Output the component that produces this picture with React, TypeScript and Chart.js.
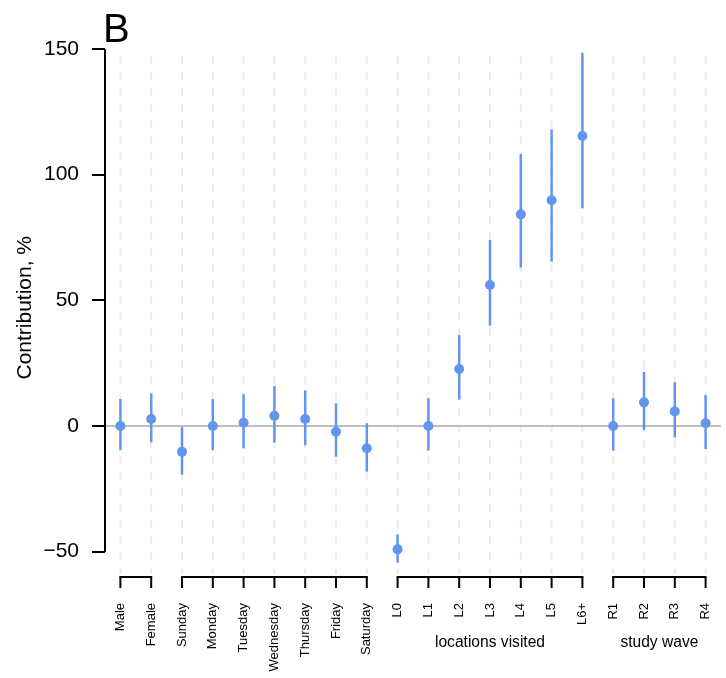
import React, { useEffect, useRef } from 'react';
import { Chart, registerables } from 'chart.js';

Chart.register(...registerables);

const categories = ['Male', 'Female', 'Sunday', 'Monday', 'Tuesday', 'Wednesday', 'Thursday', 'Friday', 'Saturday', 'L0', 'L1', 'L2', 'L3', 'L4', 'L5', 'L6+', 'R1', 'R2', 'R3', 'R4'];
const estimates = [0, 2.8, -10.3, 0, 1.3, 4.1, 2.8, -2.3, -8.9, -49.1, 0, 22.7, 56.1, 84.2, 89.8, 115.4, 0, 9.4, 5.8, 1.1];
const lower = [-9.7, -6.5, -19.4, -9.7, -8.9, -6.6, -7.7, -12.2, -18.2, -54.4, -9.8, 10.5, 39.9, 63, 65.4, 86.6, -9.8, -1.6, -4.6, -9.2];
const upper = [10.7, 13, -0.5, 10.7, 12.6, 15.9, 14.2, 9, 1.1, -43.1, 11, 36.2, 74, 108.2, 118, 148.5, 11, 21.5, 17.4, 12.3];
const yTicks = [-50, 0, 50, 100, 150];
const groupLabels = ['', '', 'locations visited', 'study wave'];
const groupStart = [0, 2, 9, 16];
const groupEnd = [1, 8, 15, 19];

const FONT = '"Liberation Sans", Arial, Helvetica, sans-serif';
const BLUE = '#6495ed';

const customPlugin = {
  id: 'customDecor',
  beforeDatasetsDraw(chart: any) {
    const { ctx, chartArea, scales } = chart;
    const x = scales.x;
    const y = scales.y;
    ctx.save();
    // dashed vertical guides
    ctx.strokeStyle = '#ebebeb';
    ctx.lineWidth = 2;
    ctx.setLineDash([8, 8]);
    const gTop = y.getPixelForValue(147);
    for (let i = 0; i < categories.length; i++) {
      const px = x.getPixelForValue(i);
      ctx.beginPath();
      ctx.moveTo(px, gTop);
      ctx.lineTo(px, chartArea.bottom);
      ctx.stroke();
    }
    ctx.setLineDash([]);
    // zero line
    const y0 = y.getPixelForValue(0);
    ctx.strokeStyle = '#bebebe';
    ctx.lineWidth = 2;
    ctx.beginPath();
    ctx.moveTo(chartArea.left, y0);
    ctx.lineTo(chartArea.right, y0);
    ctx.stroke();
    // error bars
    ctx.strokeStyle = BLUE;
    ctx.lineWidth = 2.5;
    for (let i = 0; i < categories.length; i++) {
      const px = x.getPixelForValue(i);
      ctx.beginPath();
      ctx.moveTo(px, y.getPixelForValue(lower[i]));
      ctx.lineTo(px, y.getPixelForValue(upper[i]));
      ctx.stroke();
    }
    ctx.restore();
  },
  afterDraw(chart: any) {
    const { ctx, chartArea, scales } = chart;
    const x = scales.x;
    const y = scales.y;
    ctx.save();
    ctx.strokeStyle = '#000';
    ctx.lineWidth = 2;
    // y axis line
    ctx.beginPath();
    ctx.moveTo(chartArea.left, y.getPixelForValue(yTicks[0]));
    ctx.lineTo(chartArea.left, y.getPixelForValue(yTicks[yTicks.length - 1]));
    ctx.stroke();
    // brackets
    const by = chartArea.bottom + 3;
    const tickLen = 11;
    for (let g = 0; g < groupStart.length; g++) {
      const x1 = x.getPixelForValue(groupStart[g]);
      const x2 = x.getPixelForValue(groupEnd[g]);
      ctx.beginPath();
      ctx.moveTo(x1 - 1, by);
      ctx.lineTo(x2 + 1, by);
      ctx.stroke();
      for (let i = groupStart[g]; i <= groupEnd[g]; i++) {
        const px = x.getPixelForValue(i);
        ctx.beginPath();
        ctx.moveTo(px, by);
        ctx.lineTo(px, by + tickLen);
        ctx.stroke();
      }
      if (groupLabels[g]) {
        ctx.fillStyle = '#000';
        ctx.font = `15.6px ${FONT}`;
        ctx.textAlign = 'center';
        ctx.textBaseline = 'middle';
        ctx.fillText(groupLabels[g], (x1 + x2) / 2, 643);
      }
    }
    // panel letter
    ctx.fillStyle = '#000';
    ctx.font = `40px ${FONT}`;
    ctx.textAlign = 'left';
    ctx.textBaseline = 'alphabetic';
    ctx.fillText('B', 103, 42);
    ctx.restore();
  },
};

export default function App() {
  const canvasRef = useRef<HTMLCanvasElement | null>(null);

  useEffect(() => {
    const canvas = canvasRef.current;
    if (!canvas) return;
    const chart = new Chart(canvas, {
      type: 'line',
      data: {
        labels: categories,
        datasets: [
          {
            data: estimates,
            showLine: false,
            pointRadius: 5,
            pointHoverRadius: 5,
            pointBackgroundColor: BLUE,
            pointBorderColor: BLUE,
            pointBorderWidth: 0,
            borderColor: BLUE,
            backgroundColor: BLUE,
            clip: false as any,
          },
        ],
      },
      options: {
        responsive: false,
        animation: false,
        layout: { padding: { left: 0, right: 5, top: 41.5, bottom: 0 } },
        plugins: {
          legend: { display: false },
          tooltip: { enabled: false },
          title: { display: false },
        },
        scales: {
          x: {
            type: 'category',
            offset: true,
            grid: { display: false },
            border: { display: false },
            ticks: {
              autoSkip: false,
              minRotation: 90,
              maxRotation: 90,
              padding: 21,
              color: '#000',
              font: { family: FONT, size: 13 },
            },
            afterFit(scale: any) {
              scale.height = 104;
              scale.paddingLeft = 0;
              scale.paddingRight = 0;
            },
          },
          y: {
            type: 'linear',
            min: -58.9,
            max: 152.98,
            afterBuildTicks(scale: any) {
              scale.ticks = yTicks.map((v) => ({ value: v }));
            },
            afterFit(scale: any) {
              scale.width = 105;
              scale.paddingTop = 0;
              scale.paddingBottom = 0;
            },
            grid: {
              display: true,
              drawOnChartArea: false,
              drawTicks: true,
              tickLength: 13,
              color: '#000',
              lineWidth: 2,
            },
            border: { display: false },
            ticks: {
              padding: 13,
              color: '#000',
              font: { family: FONT, size: 21 },
              callback: (v: any) => (Number(v) < 0 ? '\u2212' + Math.abs(Number(v)) : String(v)),
            },
            title: {
              display: true,
              text: 'Contribution, %',
              color: '#000',
              font: { family: FONT, size: 21 },
              padding: { top: 13, bottom: 0 },
            },
          },
        },
      },
      plugins: [customPlugin],
    });
    return () => chart.destroy();
  }, []);

  return (
    <div style={{ position: 'absolute', left: 0, top: 0, width: 726, height: 678, background: '#fff' }}>
      <canvas ref={canvasRef} width={726} height={678} style={{ display: 'block' }} />
    </div>
  );
}
